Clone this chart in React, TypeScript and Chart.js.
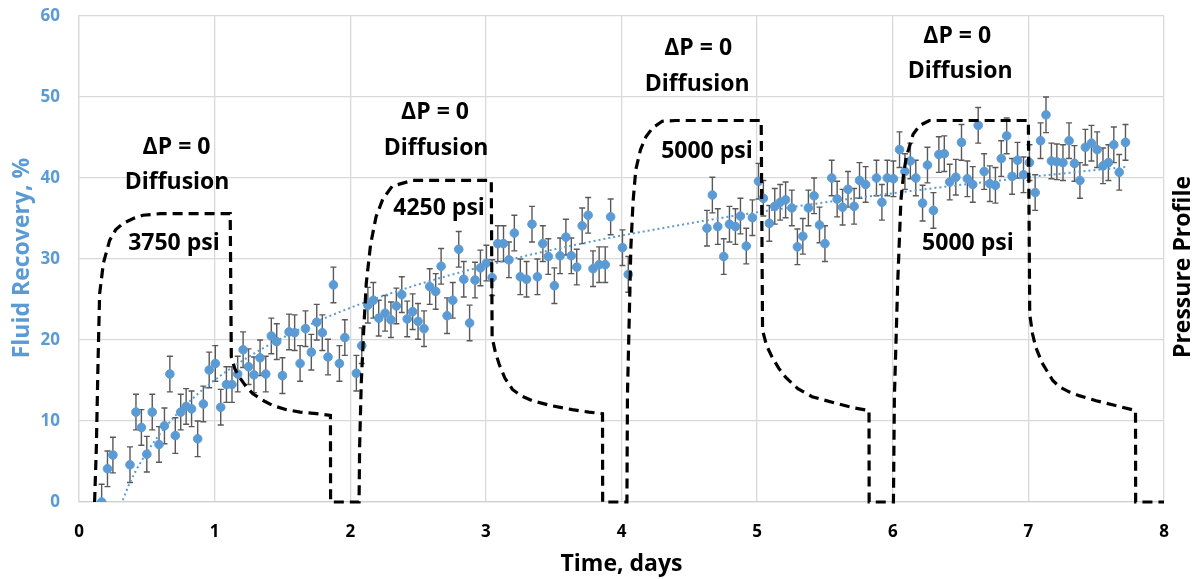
import React, { useEffect, useRef } from "react";
import { Chart, registerables } from "chart.js";

Chart.register(...registerables);

// ---- Data ----
const timeDays = [
  0.167, 0.21, 0.25, 0.376, 0.42, 0.46, 0.5, 0.54, 0.59, 0.63, 0.67, 0.71, 0.75, 0.79, 0.83, 0.875, 0.917, 0.96,
  1.005, 1.045, 1.087, 1.128, 1.17, 1.21, 1.25, 1.29, 1.335, 1.377, 1.418, 1.458, 1.5, 1.549, 1.59, 1.63, 1.67,
  1.713, 1.753, 1.794, 1.836, 1.876, 1.92, 1.96, 2.045, 2.085, 2.13, 2.17, 2.21, 2.257, 2.3, 2.34, 2.38, 2.42,
  2.46, 2.5, 2.544, 2.586, 2.63, 2.67, 2.714, 2.756, 2.8, 2.837, 2.88, 2.92, 2.96, 3.004, 3.046, 3.088, 3.13,
  3.17, 3.21, 3.254, 3.3, 3.34, 3.38, 3.42, 3.46, 3.505, 3.547, 3.59, 3.63, 3.67, 3.71, 3.754, 3.79, 3.835,
  3.88, 3.92, 4.007, 4.05, 4.63, 4.67, 4.71, 4.754, 4.796, 4.84, 4.877, 4.92, 4.965, 5.01, 5.046, 5.09, 5.13,
  5.17, 5.21, 5.256, 5.297, 5.337, 5.378, 5.42, 5.46, 5.5, 5.55, 5.59, 5.63, 5.67, 5.715, 5.755, 5.8, 5.88,
  5.92, 5.96, 6.005, 6.05, 6.09, 6.13, 6.17, 6.22, 6.256, 6.3, 6.34, 6.38, 6.42, 6.465, 6.507, 6.55, 6.59,
  6.63, 6.674, 6.716, 6.757, 6.8, 6.84, 6.88, 6.92, 6.964, 7.008, 7.05, 7.09, 7.13, 7.17, 7.21, 7.255, 7.3,
  7.34, 7.38, 7.42, 7.465, 7.507, 7.55, 7.59, 7.63, 7.67, 7.716,
];

const recoveryPct = [
  0.0, 4.1, 5.8, 4.6, 11.1, 9.2, 5.9, 11.1, 7.1, 9.4, 15.8, 8.2, 11.1, 11.8, 11.5, 7.8, 12.1, 16.3,
  17.1, 11.7, 14.5, 14.5, 15.8, 18.8, 16.7, 15.7, 17.8, 15.8, 20.5, 19.8, 15.6, 21.0, 20.9, 17.1, 21.4,
  18.5, 22.2, 20.9, 17.9, 26.8, 17.1, 20.3, 15.9, 19.3, 24.3, 24.9, 22.7, 23.3, 22.5, 24.2, 25.6, 22.6,
  23.5, 22.3, 21.4, 26.6, 26.0, 29.1, 23.0, 24.9, 31.2, 27.5, 22.1, 27.4, 28.9, 29.5, 27.7, 31.9, 31.9,
  29.9, 33.2, 27.8, 27.5, 34.3, 27.8, 31.9, 30.3, 26.7, 30.4, 32.7, 30.4, 29.0, 34.1, 35.4, 28.8, 29.3,
  29.3, 35.2, 31.4, 28.1, 33.8, 37.9, 34.0, 30.3, 34.3, 34.0, 35.3, 31.6, 35.1, 39.6, 37.5, 34.4, 36.5,
  37.0, 37.3, 36.3, 31.5, 32.8, 36.3, 37.8, 34.2, 31.9, 40.0, 37.4, 36.4, 38.6, 36.5, 39.7, 39.2, 40.0,
  37.0, 40.0, 39.9, 43.5, 40.8, 42.1, 40.0, 36.9, 41.6, 36.0, 42.9, 43.0, 39.5, 40.1, 44.4, 39.9, 39.2,
  46.5, 40.8, 39.3, 39.1, 42.4, 45.2, 40.2, 42.2, 40.4, 41.9, 38.2, 44.6, 47.8, 42.1, 42.0, 41.9, 44.6,
  41.8, 39.7, 43.8, 44.3, 43.5, 41.5, 41.9, 44.1, 40.7, 44.4,
];

const errorMargin = 2.2;

// Pressure profile (plotted in recovery-axis units)
const pressureTime = [
  0.115, 0.128, 0.14, 0.152, 0.18, 0.226, 0.27, 0.324, 0.4, 0.47, 0.6, 1.115, 1.123, 1.15, 1.184, 1.23, 1.28,
  1.35, 1.43, 1.53, 1.63, 1.75, 1.854, 1.855, 2.065,
  2.069, 2.081, 2.1, 2.118, 2.15, 2.19, 2.24, 2.31, 2.46, 3.04, 3.046, 3.07, 3.098, 3.14, 3.196, 3.26, 3.343,
  3.48, 3.637, 3.76, 3.86, 3.861, 4.04,
  4.044, 4.069, 4.085, 4.105, 4.14, 4.18, 4.23, 4.3, 4.4, 5.03, 5.04, 5.07, 5.11, 5.16, 5.21, 5.3, 5.405,
  5.49, 5.6, 5.72, 5.825, 5.826, 6.005,
  6.012, 6.037, 6.06, 6.08, 6.1, 6.15, 6.2, 6.27, 7.0, 7.01, 7.03, 7.055, 7.1, 7.18, 7.23, 7.3, 7.38, 7.5,
  7.62, 7.79, 7.791, 8.0,
];
const pressureLevel = [
  0, 6.8, 17, 25.7, 29.5, 32.3, 33.6, 34.4, 35.0, 35.4, 35.6, 35.6, 17.9, 16.4, 15.4, 14.3, 13.4,
  12.6, 11.9, 11.4, 11.1, 10.9, 10.7, 0, 0,
  6.8, 14.6, 21.5, 27, 31.8, 35.2, 37.4, 39.0, 39.7, 39.7, 20.3, 18.5, 17.0, 15.3, 13.9, 13.1, 12.5,
  11.9, 11.4, 11.1, 10.9, 0, 0,
  13.3, 31.4, 37, 41, 43.5, 45.1, 46.2, 47.0, 47.1, 47.1, 21.2, 19.3, 17.9, 16.5, 15.4, 14.0, 13.0,
  12.6, 12.1, 11.6, 11.3, 0, 0,
  12.9, 27.3, 37.2, 40.5, 42.6, 45.4, 46.5, 47.1, 47.1, 23.2, 20.8, 19.1, 17.2, 15.0, 14.2, 13.6, 13.1, 12.5,
  12.0, 11.3, 0, 0,
];

const xTickValues = [0, 1, 2, 3, 4, 5, 6, 7, 8];
const yTickValues = [0, 10, 20, 30, 40, 50, 60];

const annotationTexts = [
  "ΔP = 0", "Diffusion", "3750 psi",
  "ΔP = 0", "Diffusion", "4250 psi",
  "ΔP = 0", "Diffusion", "5000 psi",
  "ΔP = 0", "Diffusion", "5000 psi",
];
const annotationX = [0.719, 0.723, 0.70, 2.625, 2.633, 2.655, 4.565, 4.558, 4.63, 6.475, 6.497, 6.554];
const annotationY = [43.8, 39.4, 31.9, 48.1, 43.7, 36.3, 56.0, 51.6, 43.3, 57.5, 53.1, 31.9];

const xTitle = "Time, days";
const yTitle = "Fluid Recovery, %";
const y2Title = "Pressure Profile";

// ---- Styles ----
const BLUE = "#5b9bd5";
const FONT = "'Open Sans', 'DejaVu Sans', sans-serif";

// logarithmic trendline fitted to the data (least squares, like a spreadsheet trendline)
function logFit(xs: number[], ys: number[]) {
  const lx = xs.map((v) => Math.log(v));
  const n = lx.length;
  const mx = lx.reduce((s, v) => s + v, 0) / n;
  const my = ys.reduce((s, v) => s + v, 0) / n;
  let num = 0;
  let den = 0;
  for (let i = 0; i < n; i++) {
    num += (lx[i] - mx) * (ys[i] - my);
    den += (lx[i] - mx) * (lx[i] - mx);
  }
  const a = num / den;
  const b = my - a * mx;
  return { a, b };
}

const errorBarPlugin = {
  id: "errorBars",
  beforeDatasetsDraw(chart: any) {
    const meta = chart.getDatasetMeta(1);
    const ys = chart.scales.y;
    const ctx = chart.ctx;
    ctx.save();
    ctx.strokeStyle = "#595959";
    ctx.lineWidth = 1.4;
    meta.data.forEach((pt: any, i: number) => {
      const v = recoveryPct[i];
      const top = ys.getPixelForValue(Math.min(60, v + errorMargin));
      const bot = ys.getPixelForValue(Math.max(0, v - errorMargin));
      const x = pt.x;
      ctx.beginPath();
      ctx.moveTo(x, top);
      ctx.lineTo(x, bot);
      ctx.moveTo(x - 3, top);
      ctx.lineTo(x + 3, top);
      if (v - errorMargin >= 0) {
        ctx.moveTo(x - 3, bot);
        ctx.lineTo(x + 3, bot);
      }
      ctx.stroke();
    });
    ctx.restore();
  },
};

const textPlugin = {
  id: "texts",
  afterDraw(chart: any) {
    const ctx = chart.ctx;
    const xs = chart.scales.x;
    const ys = chart.scales.y;
    const area = chart.chartArea;
    ctx.save();
    ctx.textAlign = "center";
    ctx.textBaseline = "middle";
    ctx.fillStyle = "#000";
    ctx.font = `bold 23px ${FONT}`;
    annotationTexts.forEach((t, i) => {
      ctx.fillText(t, xs.getPixelForValue(annotationX[i]), ys.getPixelForValue(annotationY[i]));
    });
    // x title
    ctx.fillText(xTitle, (area.left + area.right) / 2, 564);
    // y title (left)
    ctx.save();
    ctx.translate(22, 258);
    ctx.rotate(-Math.PI / 2);
    ctx.fillStyle = BLUE;
    ctx.fillText(yTitle, 0, 0);
    ctx.restore();
    // right title
    ctx.save();
    ctx.translate(1183, 267);
    ctx.rotate(-Math.PI / 2);
    ctx.fillStyle = "#000";
    ctx.fillText(y2Title, 0, 0);
    ctx.restore();
    ctx.restore();
  },
};

export default function App() {
  const ref = useRef<HTMLCanvasElement | null>(null);
  useEffect(() => {
    if (!ref.current) return;
    const { a, b } = logFit(timeDays, recoveryPct);
    const trend = timeDays.map((t) => ({ x: t, y: a * Math.log(t) + b }));
    const chart = new Chart(ref.current, {
      type: "scatter",
      data: {
        datasets: [
          {
            type: "line",
            label: "Pressure",
            data: pressureTime.map((t, i) => ({ x: t, y: pressureLevel[i] })),
            borderColor: "#000",
            borderWidth: 3.2,
            borderDash: [10, 6],
            pointRadius: 0,
            tension: 0,
            fill: false,
            clip: 4,
          } as any,
          {
            label: "Recovery",
            data: timeDays.map((t, i) => ({ x: t, y: recoveryPct[i] })),
            backgroundColor: BLUE,
            borderColor: BLUE,
            pointRadius: 4.3,
            pointHoverRadius: 4.3,
          },
          {
            type: "line",
            label: "Trend",
            data: trend,
            borderColor: BLUE,
            borderWidth: 2,
            borderDash: [2, 3],
            pointRadius: 0,
            tension: 0,
            fill: false,
          } as any,
        ],
      },
      options: {
        animation: false,
        responsive: true,
        maintainAspectRatio: false,
        layout: { padding: { top: 16, right: 33, left: 0, bottom: 0 } },
        plugins: { legend: { display: false }, tooltip: { enabled: false } },
        scales: {
          x: {
            type: "linear",
            min: 0,
            max: 8,
            afterBuildTicks: (s: any) => {
              s.ticks = xTickValues.map((v) => ({ value: v }));
            },
            afterFit: (s: any) => {
              s.height = 77;
              s.paddingLeft = 0;
              s.paddingRight = 0;
            },
            ticks: {
              color: "#000",
              font: { family: FONT, size: 17, weight: "bold" },
              padding: 20,
            },
            grid: { color: "#d9d9d9", lineWidth: 1.3, drawTicks: false },
            border: { color: "#d0d0d0", width: 1.3 },
          },
          y: {
            min: 0,
            max: 60,
            afterBuildTicks: (s: any) => {
              s.ticks = yTickValues.map((v) => ({ value: v }));
            },
            afterFit: (s: any) => {
              s.width = 79;
              s.paddingTop = 0;
              s.paddingBottom = 0;
            },
            ticks: {
              color: BLUE,
              font: { family: FONT, size: 17, weight: "bold" },
              padding: 19,
            },
            grid: { color: "#d9d9d9", lineWidth: 1.3, drawTicks: false },
            border: { color: "#d9d9d9", width: 1.3 },
          },
        },
      },
      plugins: [errorBarPlugin, textPlugin],
    });
    return () => chart.destroy();
  }, []);
  return (
    <div style={{ position: "absolute", left: 0, top: 0, width: 1197, height: 579 }}>
      <canvas ref={ref} />
    </div>
  );
}
